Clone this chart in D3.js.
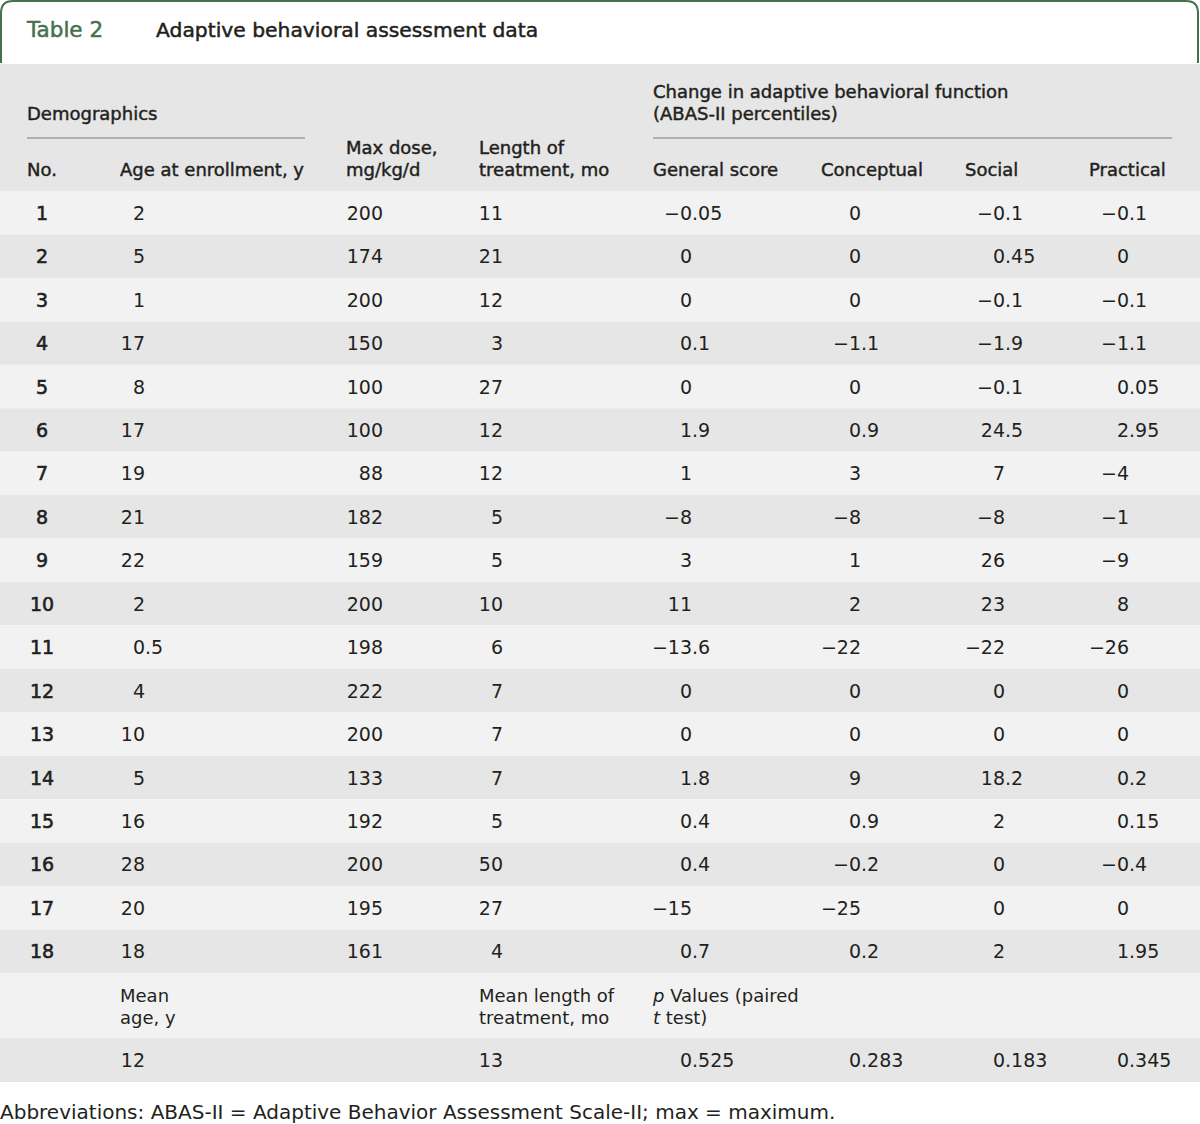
<!DOCTYPE html>
<html>
<head>
<meta charset="utf-8">
<script src="https://cdn.jsdelivr.net/npm/d3@7"></script>
<style>
  body { margin: 0; background: #fff; }
  svg { display: block; }
</style>
</head>
<body>
<svg id="chart"></svg>
<script>
const W = 1200;
const H = 1124;

// table data
const patientIds = [1, 2, 3, 4, 5, 6, 7, 8, 9, 10, 11, 12, 13, 14, 15, 16, 17, 18];
const ages = [2, 5, 1, 17, 8, 17, 19, 21, 22, 2, 0.5, 4, 10, 5, 16, 28, 20, 18];
const maxDoses = [200, 174, 200, 150, 100, 100, 88, 182, 159, 200, 198, 222, 200, 133, 192, 200, 195, 161];
const treatmentLengths = [11, 21, 12, 3, 27, 12, 12, 5, 5, 10, 6, 7, 7, 7, 5, 50, 27, 4];
const generalScore = [-0.05, 0, 0, 0.1, 0, 1.9, 1, -8, 3, 11, -13.6, 0, 0, 1.8, 0.4, 0.4, -15, 0.7];
const conceptual = [0, 0, 0, -1.1, 0, 0.9, 3, -8, 1, 2, -22, 0, 0, 9, 0.9, -0.2, -25, 0.2];
const social = [-0.1, 0.45, -0.1, -1.9, -0.1, 24.5, 7, -8, 26, 23, -22, 0, 0, 18.2, 2, 0, 0, 2];
const practical = [-0.1, 0, -0.1, -1.1, 0.05, 2.95, -4, -1, -9, 8, -26, 0, 0, 0.2, 0.15, -0.4, 0, 1.95];
const meanAge = 12;
const meanLength = 13;
const pValues = [0.525, 0.283, 0.183, 0.345];

const textColor = "#231f20";
const green = "#46704e";
const font = "'DejaVu Sans', sans-serif";

const svg = d3.select("#chart")
  .attr("width", W)
  .attr("height", H)
  .style("font-family", font);

// row bands
const y = d3.scaleBand()
  .domain(patientIds)
  .range([191, 973]);

// anchor x for each column (decimal point / right edge)
const colX = {
  id: 42, age: 145, dose: 383, length: 503,
  general: 692, conceptual: 861, social: 1005, practical: 1129
};

const fmt = v => String(v).replace("-", "\u2212");

// title frame
svg.append("path")
  .attr("d", `M1,63 V13 Q1,1 13,1 H1186 Q1198,1 1198,13 V63`)
  .attr("fill", "none")
  .attr("stroke", green)
  .attr("stroke-width", 2);

svg.append("text")
  .attr("x", 27).attr("y", 37)
  .attr("fill", green)
  .attr("font-size", 21.5)
  .attr("stroke", green).attr("stroke-width", 0.5)
  .text("Table 2");

svg.append("text")
  .attr("x", 156).attr("y", 37)
  .attr("fill", textColor)
  .attr("font-size", 20.3)
  .attr("stroke", textColor).attr("stroke-width", 0.5)
  .text("Adaptive behavioral assessment data");

// backgrounds
svg.append("rect").attr("x", 0).attr("y", 64).attr("width", W).attr("height", 127).attr("fill", "#e6e6e6");

svg.selectAll(".band")
  .data(patientIds)
  .join("rect")
  .attr("class", "band")
  .attr("x", 0)
  .attr("y", d => y(d))
  .attr("width", W)
  .attr("height", y.bandwidth())
  .attr("fill", (d, i) => i % 2 === 0 ? "#f2f2f2" : "#e6e6e6");

svg.append("rect").attr("x", 0).attr("y", 973).attr("width", W).attr("height", 65).attr("fill", "#f2f2f2");
svg.append("rect").attr("x", 0).attr("y", 1038).attr("width", W).attr("height", 44).attr("fill", "#e6e6e6");

// header text
const header = svg.append("g")
  .attr("fill", textColor)
  .attr("font-size", 18)
  .attr("stroke", textColor)
  .attr("stroke-width", 0.45);

const headerLines = [
  { x: 27, y: 120, t: "Demographics" },
  { x: 653, y: 98, t: "Change in adaptive behavioral function" },
  { x: 653, y: 120, t: "(ABAS-II percentiles)" },
  { x: 27, y: 176, t: "No." },
  { x: 120, y: 176, t: "Age at enrollment, y" },
  { x: 346, y: 154, t: "Max dose," },
  { x: 346, y: 176, t: "mg/kg/d" },
  { x: 479, y: 154, t: "Length of" },
  { x: 479, y: 176, t: "treatment, mo" },
  { x: 653, y: 176, t: "General score" },
  { x: 821, y: 176, t: "Conceptual" },
  { x: 965, y: 176, t: "Social" },
  { x: 1089, y: 176, t: "Practical" }
];

header.selectAll("text")
  .data(headerLines)
  .join("text")
  .attr("x", d => d.x)
  .attr("y", d => d.y)
  .text(d => d.t);

svg.append("line").attr("x1", 27).attr("x2", 305).attr("y1", 138).attr("y2", 138)
  .attr("stroke", "#7a7a7a").attr("stroke-width", 1.2);
svg.append("line").attr("x1", 653).attr("x2", 1172).attr("y1", 138).attr("y2", 138)
  .attr("stroke", "#7a7a7a").attr("stroke-width", 1.2);

// cell drawing, decimal aligned
const body = svg.append("g")
  .attr("fill", textColor)
  .attr("font-size", 19);

function decimalCell(g, x, yy, v) {
  const s = fmt(v);
  const [intPart, frac] = s.split(".");
  g.append("text").attr("x", x).attr("y", yy).attr("text-anchor", "end").text(intPart);
  if (frac !== undefined) {
    g.append("text").attr("x", x).attr("y", yy).attr("text-anchor", "start").text("." + frac);
  }
}

function rightCell(g, x, yy, v) {
  g.append("text").attr("x", x).attr("y", yy).attr("text-anchor", "end").text(fmt(v));
}

patientIds.forEach((id, i) => {
  const yy = y(id) + y.bandwidth() / 2 + 7;
  body.append("text")
    .attr("x", colX.id).attr("y", yy)
    .attr("text-anchor", "middle")
    .attr("stroke", textColor).attr("stroke-width", 0.6)
    .text(id);
  decimalCell(body, colX.age, yy, ages[i]);
  rightCell(body, colX.dose, yy, maxDoses[i]);
  rightCell(body, colX.length, yy, treatmentLengths[i]);
  decimalCell(body, colX.general, yy, generalScore[i]);
  decimalCell(body, colX.conceptual, yy, conceptual[i]);
  decimalCell(body, colX.social, yy, social[i]);
  decimalCell(body, colX.practical, yy, practical[i]);
});

// summary rows
const summary = svg.append("g")
  .attr("fill", textColor)
  .attr("font-size", 18);

summary.append("text").attr("x", 120).attr("y", 1002).text("Mean");
summary.append("text").attr("x", 120).attr("y", 1024).text("age, y");
summary.append("text").attr("x", 479).attr("y", 1002).text("Mean length of");
summary.append("text").attr("x", 479).attr("y", 1024).text("treatment, mo");

const pLabel1 = summary.append("text").attr("x", 653).attr("y", 1002);
pLabel1.append("tspan").attr("font-style", "italic").text("p");
pLabel1.append("tspan").text(" Values (paired");
const pLabel2 = summary.append("text").attr("x", 653).attr("y", 1024);
pLabel2.append("tspan").attr("font-style", "italic").text("t");
pLabel2.append("tspan").text(" test)");

const meanY = 1060 + 7;
decimalCell(body, colX.age, meanY, meanAge);
rightCell(body, colX.length, meanY, meanLength);
["general", "conceptual", "social", "practical"].forEach((k, i) => {
  decimalCell(body, colX[k], meanY, pValues[i]);
});

// footnote
svg.append("text")
  .attr("x", 0).attr("y", 1119)
  .attr("fill", textColor)
  .attr("font-size", 20)
  .text("Abbreviations: ABAS-II = Adaptive Behavior Assessment Scale-II; max = maximum.");
</script>
</body>
</html>
